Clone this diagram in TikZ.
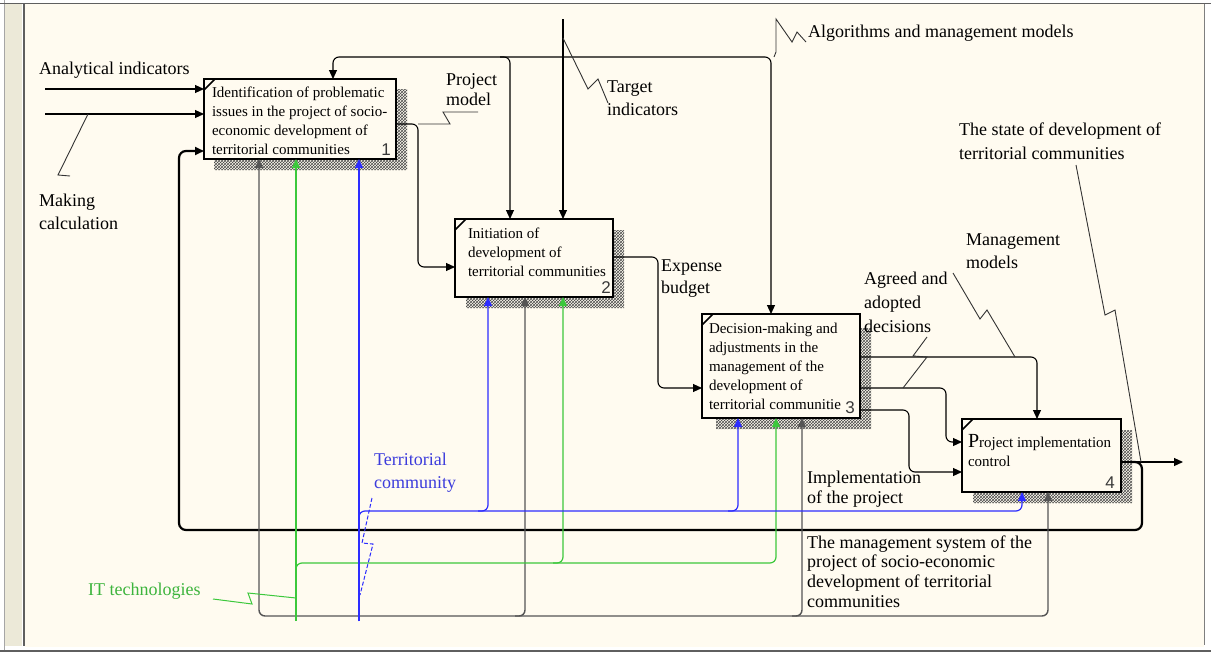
\documentclass[tikz,border=0pt]{standalone}
\usepackage{fontspec}
\setmainfont{Liberation Serif}
\newfontfamily\numfont{Liberation Sans}
\usetikzlibrary{arrows.meta,patterns,calc}
\pgfdeclarelayer{back}
\pgfdeclarelayer{shad}
\pgfsetlayers{back,shad,main}
\definecolor{bgcream}{RGB}{255,251,240}
\definecolor{frbeige}{RGB}{236,233,216}
\definecolor{frdark}{RGB}{95,95,95}
\definecolor{idefgreen}{RGB}{60,200,60}
\definecolor{idefblue}{RGB}{45,45,255}
\definecolor{txtgreen}{RGB}{60,180,60}
\definecolor{txtblue}{RGB}{60,60,220}
\definecolor{mechgray}{RGB}{85,85,85}
\newcommand\labstrut{\rule{0pt}{14pt}}
\newcommand\boxtext[5]{\parbox[c][#1][t]{#2}{\leftskip=#4\relax\rightskip=0pt plus 1fil\parindent=0pt\fontsize{15}{19}\selectfont\rule{0pt}{#3}#5}}
\newcommand\idefshadow[2]{\fill[pattern=crosshatch, pattern color=gray!60!black] ($(#1.north east)+(1.2,#2)$) -- ++(10,0) -- ($(#1.south east)+(11,11)$) -- ($(#1.south west)+(#2,11)$) -- ($(#1.south west)+(#2,1.2)$) -- ($(#1.south east)+(1.2,1.2)$) -- cycle;}
\begin{document}
\begin{tikzpicture}[x=1pt,y=-1pt,
  idefbox/.style={draw=black, line width=2.4pt, fill=bgcream, inner sep=0pt, outer sep=0pt, anchor=north west},
  lab/.style={font=\fontsize{18}{23}\selectfont, align=left, inner sep=0pt, anchor=north west},
  num/.style={font=\numfont\fontsize{17}{17}\selectfont, text=gray!45!black, inner sep=0pt, anchor=base east},
  ar/.style={-{Triangle[length=9pt,width=8pt]}},
  arr/.style={{Triangle[length=9pt,width=8pt]}-{Triangle[length=9pt,width=8pt]}},
  cl/.style={draw=black, line width=1.1pt},
  fb/.style={draw=black, line width=2.2pt},
  mg/.style={draw=mechgray, line width=1.4pt},
  gl/.style={draw=idefgreen, line width=1.2pt},
  bl/.style={draw=idefblue, line width=1.2pt},
  sq/.style={draw=black!80, line width=0.9pt},
  gsq/.style={draw=idefgreen, line width=1pt},
  bsq/.style={draw=idefblue, line width=1pt, dash pattern=on 4pt off 2pt},
  corner/.style={draw=black, line width=1.6pt}
]
\useasboundingbox (0,0) rectangle (1211,653);
\begin{pgfonlayer}{back}
\fill[white] (0,0) rectangle (1211,653);
\fill[bgcream] (25,4) rectangle (1204,647);
\fill[frbeige] (5,4) rectangle (22,646);
\draw[gray!70, line width=1pt] (4.5,0) -- (4.5,650);
\draw[frdark, line width=2pt] (23.5,4) -- (23.5,646);
\draw[frdark, line width=1pt] (0,3.5) -- (1211,3.5);
\draw[frdark!80, line width=1pt] (1204.5,4) -- (1204.5,645);
\draw[frdark, line width=1.5pt] (0,651) -- (1211,651);
\end{pgfonlayer}

% boxes
\node[idefbox] (b1) at (204,79) {\boxtext{80pt}{192pt}{18pt}{8pt}{Identification of problematic\\issues in the project of socio-\\economic development of\\territorial communities}};
\node[idefbox] (b2) at (455,219) {\boxtext{78pt}{158pt}{19pt}{13pt}{Initiation of\\development of\\territorial communities}};
\node[idefbox] (b3) at (702,314) {\boxtext{104pt}{158pt}{19pt}{7pt}{Decision-making and\\adjustments in the\\management of the\\development of\\territorial communitie}};
\node[idefbox] (b4) at (962,419) {\boxtext{73pt}{159pt}{28pt}{6pt}{{\fontsize{20}{19}\selectfont P}roject implementation\\control}};

\begin{pgfonlayer}{shad}
\idefshadow{b1}{10}
\idefshadow{b2}{11}
\idefshadow{b3}{14}
\idefshadow{b4}{11}
\end{pgfonlayer}

\foreach \b in {b1,b2,b3,b4}{\draw[corner] ([yshift=-11pt]\b.north west) -- ([xshift=11pt]\b.north west);}

\node[num] (n1) at (391,155) {1};
\node[num] (n2) at (611,293) {2};
\node[num] (n3) at (855,413) {3};
\node[num] (n4) at (1115,488) {4};

% labels
\node[lab] (lAI) at (39,60) {\labstrut Analytical indicators};
\node[lab] (lMC) at (39,192) {\labstrut Making\\calculation};
\node[lab, font=\fontsize{18}{20}\selectfont] (lPM) at (446,71) {\labstrut Project\\model};
\node[lab] (lTI) at (607,78) {\labstrut Target\\indicators};
\node[lab] (lAM) at (808,23) {\labstrut Algorithms and management models};
\node[lab, font=\fontsize{18}{24}\selectfont] (lSD) at (959,121) {\labstrut The state of development of\\territorial communities};
\node[lab] (lMM) at (966,231) {\labstrut Management\\models};
\node[lab, font=\fontsize{18}{24}\selectfont] (lAD) at (864,270) {\labstrut Agreed and\\adopted\\decisions};
\node[lab, font=\fontsize{18}{22}\selectfont] (lEB) at (661,257) {\labstrut Expense\\budget};
\node[lab, font=\fontsize{18}{20}\selectfont] (lIP) at (807,469) {\labstrut Implementation\\of the project};
\node[lab, font=\fontsize{18}{19.7}\selectfont] (lMS) at (807,534) {\labstrut The management system of the\\project of socio-economic\\development of territorial\\communities};
\node[lab, text=txtblue] (lTC) at (374,451) {\labstrut Territorial\\community};
\node[lab, text=txtgreen] (lIT) at (88,581) {\labstrut IT technologies};

% inputs of box 1
\coordinate (aiS) at (45,89);
\coordinate (mcS) at (45,114);
\draw[cl,ar] (aiS) -- ([yshift=-10pt]b1.north west);
\draw[cl,ar] (mcS) -- ([yshift=-35pt]b1.north west);
\draw[sq] (88,114) -- (58,175) -- (70,176);

% feedback loop and output
\coordinate (fbS) at (1132,462);
\coordinate (o4) at (1183,462);
\draw[cl,ar] ([yshift=-43pt]b4.north east) -- (o4);
\draw[fb,ar,rounded corners=7pt] (fbS) -- (1142,462) -- (1142,530) -- (179,530) -- (179,151) -- ([yshift=-72pt]b1.north west);
\draw[sq] (1076,165) -- (1105,315) -- (1115,310) -- (1141,462);

% algorithms and management models
\draw[cl,arr,rounded corners=6pt] ([xshift=129pt]b1.north west) -- (333,57) -- (771,57) -- ([xshift=69pt]b3.north west);
\draw[cl,ar,rounded corners=6pt] (500,57) -- (510,57) -- ([xshift=55pt]b2.north west);
\draw[sq] (774,57) -- (776,52) -- (776,19) -- (792,42) -- (797,32) -- (806,42);

% target indicators
\coordinate (tiS) at (563,19);
\draw[cl,ar] (tiS) -- ([xshift=108pt]b2.north west);
\draw[sq] (563,38) -- (588,89) -- (598,79) -- (608,103);

% project model
\draw[cl,ar,rounded corners=6pt] ([yshift=-45pt]b1.north east) -- (418,124) -- (418,267) -- ([yshift=-48pt]b2.north west);
\draw[sq] (418,124) -- (450,124) -- (443,112) -- (478,112);

% expense budget
\draw[cl,ar,rounded corners=6pt] ([yshift=-38pt]b2.north east) -- (658,257) -- (658,388) -- ([yshift=-74pt]b3.north west);

% outputs of box 3
\draw[cl,ar,rounded corners=6pt] ([yshift=-43pt]b3.north east) -- (1037,357) -- ([xshift=75pt]b4.north west);
\draw[sq] (1015,357) -- (987,310) -- (980,319) -- (953,273);
\draw[cl,ar,rounded corners=6pt] ([yshift=-74pt]b3.north east) -- (946,388) -- (946,442) -- ([yshift=-23pt]b4.north west);
\draw[sq] (903,388) -- (927,357) -- (913,356) -- (927,337);
\draw[cl,ar,rounded corners=6pt] ([yshift=-96pt]b3.north east) -- (909,410) -- (909,472) -- ([yshift=-53pt]b4.north west);

% management system (gray)
\draw[mg,arr,rounded corners=6pt] ([xshift=55pt]b1.south west) -- (259,616) -- (1048,616) -- ([xshift=86pt]b4.south west);
\draw[mg,ar,rounded corners=6pt] (515,616) -- (525,616) -- ([xshift=70pt]b2.south west);
\draw[mg,ar,rounded corners=6pt] (792,616) -- (802,616) -- ([xshift=100pt]b3.south west);

% IT technologies (green)
\coordinate (itS) at (296,621);
\draw[gl,ar] (itS) -- ([xshift=92pt]b1.south west);
\draw[gl,ar,rounded corners=6pt] (296,575) -- (296,563) -- (776,563) -- ([xshift=74pt]b3.south west);
\draw[gl,ar,rounded corners=6pt] (553,563) -- (563,563) -- ([xshift=108pt]b2.south west);
\draw[gsq] (213,599) -- (252,604) -- (248,593) -- (296,598);

% territorial community (blue)
\coordinate (tcS) at (359,621);
\draw[bl,ar] (tcS) -- ([xshift=155pt]b1.south west);
\draw[bl,line width=2.6pt] (tcS) -- (359,511);
\draw[bl,ar,rounded corners=6pt] (359,520) -- (359,511) -- (1022,511) -- ([xshift=60pt]b4.south west);
\draw[bl,ar,rounded corners=6pt] (478,511) -- (488,511) -- ([xshift=33pt]b2.south west);
\draw[bl,ar,rounded corners=6pt] (728,511) -- (738,511) -- ([xshift=36pt]b3.south west);
\draw[bsq] (372,498) -- (362,543) -- (373,544) -- (360,595);
\end{tikzpicture}
\end{document}
